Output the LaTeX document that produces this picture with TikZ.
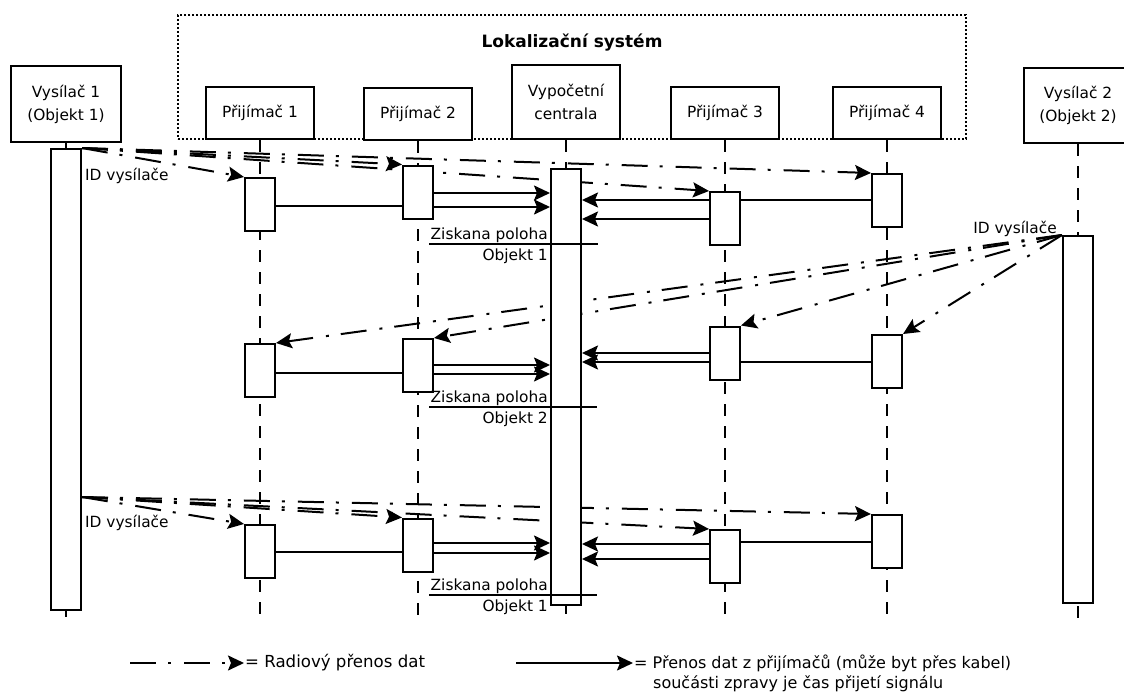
\documentclass[tikz,border=0pt]{standalone}
\usepackage{fontspec}
\setmainfont{DejaVu Sans}
\usetikzlibrary{arrows.meta,positioning,backgrounds}

\begin{document}
\begin{tikzpicture}[x=1pt,y=-1pt,
  font=\fontsize{15.4}{23}\selectfont,
  lw/.style={line width=2pt},
  head/.style={draw,lw,fill=white,align=center,minimum width=108pt,minimum height=52pt,inner sep=0pt},
  actbar/.style={draw,lw,fill=white,minimum width=30pt,inner sep=0pt},
  life/.style={lw,dash pattern=on 12pt off 10pt},
  msgtip/.style={-{Stealth[length=16pt,width=15pt,inset=3pt]}},
  radio/.style={lw,msgtip,dash pattern=on 26pt off 12pt on 3pt off 13pt},
  wire/.style={lw,msgtip},
  note/.style={inner sep=1pt}]
 \useasboundingbox (0,0) rectangle (1124,693);
 % heads of the lifelines
 \node[font=\bfseries\fontsize{17}{20}\selectfont] (sys) at (572,43) {Lokalizační systém};
 \node[head,minimum width=110pt,minimum height=76pt] (v1) at (66,104) {Vysílač 1\\(Objekt 1)};
 \node[head] (p1) at (260,113) {Přijímač 1};
 \node[head] (p2) at (418,114) {Přijímač 2};
 \node[head,minimum height=74pt] (cc) at (566,102) {Vypočetní\\centrala};
 \node[head] (p3) at (725,113) {Přijímač 3};
 \node[head] (p4) at (887,113) {Přijímač 4};
 \node[head,minimum height=75pt] (v2) at (1078,105.5) {Vysílač 2\\(Objekt 2)};
 % activation bars
 \node[actbar,minimum height=461pt] (v1a) at (66,379.5) {};
 \node[actbar,minimum height=436pt] (cca) at (566,387) {};
 \node[actbar,minimum height=367pt] (v2a) at (1078,419.5) {};
 \foreach \n/\x/\y in {p1a/260/204.5,p2a/418/192,p3a/725/218.5,p4a/887/200.5,
                       p1b/260/370.5,p2b/418/365.5,p3b/725/353,p4b/887/361.5,
                       p1c/260/551.5,p2c/418/545,p3c/725/556.5,p4c/887/541.5}
  \node[actbar,minimum height=53pt] (\n) at (\x,\y) {};
 \begin{pgfonlayer}{background}
  \node[draw,line width=2pt,dash pattern=on 2pt off 2pt,minimum width=788pt,minimum height=124pt] (lok) at (572,77) {};
  \foreach \n in {v1,p1,p2,cc,p3,p4,v2}
   \draw[life] (\n.south) -- (\n.south |- 0,622);
  % radio messages
  \foreach \r in {p1a,p2a,p3a,p4a}
   \draw[radio] (v1a.north east) -- (\r.north west);
  \foreach \r in {p1b,p2b,p3b,p4b}
   \draw[radio] (v2a.north west) -- (\r.north east);
  \foreach \r in {p1c,p2c,p3c,p4c}
   \draw[radio] (v1a.east |- 0,497) -- (\r.north west);
 \end{pgfonlayer}
 % data from the receivers
 \draw[lw] (p1a.east |- 0,206) -- (p2a.west |- 0,206);
 \draw[lw] (p3a.east |- 0,200) -- (p4a.west |- 0,200);
 \foreach \y in {193,207} \draw[wire] (p2a.east |- 0,\y) -- (cca.west |- 0,\y);
 \foreach \y in {200,219} \draw[wire] (p3a.west |- 0,\y) -- (cca.east |- 0,\y);
 \draw[lw] (p1b.east |- 0,373) -- (p2b.west |- 0,373);
 \draw[lw] (p3b.east |- 0,362) -- (p4b.west |- 0,362);
 \foreach \y in {365,374} \draw[wire] (p2b.east |- 0,\y) -- (cca.west |- 0,\y);
 \foreach \y in {353,362} \draw[wire] (p3b.west |- 0,\y) -- (cca.east |- 0,\y);
 \draw[lw] (p1c.east |- 0,552) -- (p2c.west |- 0,552);
 \draw[lw] (p3c.east |- 0,542) -- (p4c.west |- 0,542);
 \foreach \y in {543,553} \draw[wire] (p2c.east |- 0,\y) -- (cca.west |- 0,\y);
 \foreach \y in {544,559} \draw[wire] (p3c.west |- 0,\y) -- (cca.east |- 0,\y);
 % labels
 \node[note,anchor=west] (id1) at (84,176) {ID vysílače};
 \node[note,anchor=east] (id2) at (1058,229) {ID vysílače};
 \node[note,anchor=west] (id3) at (84,523) {ID vysílače};
 \node[note,anchor=south east] (z1) at (549,244) {Ziskana poloha};
 \node[note,anchor=north east] (o1) at (549,248) {Objekt 1};
 \draw[lw] (z1.south west) -- ++(169,0);
 \node[note,anchor=south east] (z2) at (549,407) {Ziskana poloha};
 \node[note,anchor=north east] (o2) at (549,411) {Objekt 2};
 \draw[lw] (z2.south west) -- ++(168,0);
 \node[note,anchor=south east] (z3) at (549,595) {Ziskana poloha};
 \node[note,anchor=north east] (o3) at (549,599) {Objekt 1};
 \draw[lw] (z3.south west) -- ++(168,0);
 % legend
 \coordinate (lg1s) at (130,663);
 \node[note,anchor=west,font=\fontsize{16.6}{20}\selectfont] (lg1) at (244,663) {= Radiový přenos dat};
 \draw[radio] (lg1s) -- (lg1.west);
 \coordinate (lg2s) at (516,663);
 \node[note,anchor=west,font=\fontsize{16}{20}\selectfont] (lg2) at (633,663) {= Přenos dat z přijímačů (může byt přes kabel)};
 \node[note,anchor=north west,font=\fontsize{16}{20}\selectfont] (lg3) at (652,674) {součásti zpravy je čas přijetí signálu};
 \draw[wire] (lg2s) -- (lg2.west);
\end{tikzpicture}
\end{document}
